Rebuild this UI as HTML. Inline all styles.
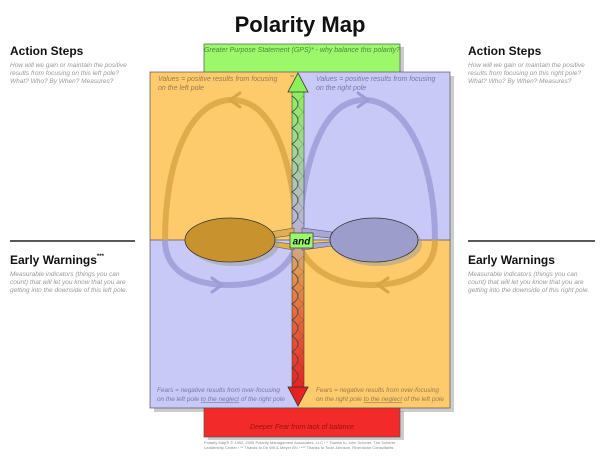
<!DOCTYPE html>
<html><head><meta charset="utf-8"><style>
body{margin:0;width:600px;height:459px;background:#fff;overflow:hidden;font-family:"Liberation Sans",sans-serif}
</style></head><body>
<svg width="600" height="459" viewBox="0 0 600 459" xmlns="http://www.w3.org/2000/svg" font-family="Liberation Sans, sans-serif">
<defs>
<linearGradient id="rope" x1="0" y1="0" x2="0" y2="1">
<stop offset="0" stop-color="#8cf05a"/><stop offset="0.45" stop-color="#b8b4d8"/><stop offset="0.6" stop-color="#e09a50"/><stop offset="1" stop-color="#e82020"/>
</linearGradient>
<clipPath id="top"><rect x="0" y="0" width="600" height="240"/></clipPath>
<clipPath id="bot"><rect x="0" y="240" width="600" height="219"/></clipPath>
</defs>
<text x="300" y="32" text-anchor="middle" font-size="22" font-weight="bold" fill="#111">Polarity Map</text>
<g fill="#111"><text x="10" y="55" font-size="12" font-weight="bold">Action Steps</text>
<text x="468" y="55" font-size="12" font-weight="bold">Action Steps</text>
<text x="10" y="264" font-size="12" font-weight="bold">Early Warnings<tspan font-size="6" dy="-6">***</tspan></text>
<text x="468" y="264" font-size="12" font-weight="bold">Early Warnings</text></g>
<g fill="#999" font-size="6.5" font-style="italic">
<text x="10" y="67">How will we gain or maintain the positive</text><text x="10" y="75">results from focusing on this left pole?</text><text x="10" y="83">What? Who? By When? Measures?</text>
<text x="468" y="67">How will we gain or maintain the positive</text><text x="468" y="75">results from focusing on this right pole?</text><text x="468" y="83">What? Who? By When? Measures?</text>
<text x="10" y="276">Measurable indicators (things you can</text><text x="10" y="284">count) that will let you know that you are</text><text x="10" y="292">getting into the downside of this left pole.</text>
<text x="468" y="276">Measurable indicators (things you can</text><text x="468" y="284">count) that will let you know that you are</text><text x="468" y="292">getting into the downside of this right pole.</text>
</g>
<line x1="10" y1="241" x2="135" y2="241" stroke="#222" stroke-width="1.5"/>
<line x1="468" y1="241" x2="595" y2="241" stroke="#222" stroke-width="1.5"/>
<rect x="208" y="47" width="196" height="28" fill="#999" opacity="0.5"/>
<rect x="154" y="76" width="300" height="336" fill="#999" opacity="0.5"/>
<rect x="208" y="411" width="196" height="29" fill="#999" opacity="0.5"/>
<rect x="204" y="44" width="196" height="29" fill="#9cf86a" stroke="#555" stroke-width="0.7"/>
<rect x="150" y="72" width="148" height="168" fill="#fdca6c"/>
<rect x="298" y="72" width="152" height="168" fill="#c9c9f7"/>
<rect x="150" y="240" width="148" height="168" fill="#c9c9f7"/>
<rect x="298" y="240" width="152" height="168" fill="#fdca6c"/>
<rect x="150" y="72" width="300" height="336" fill="none" stroke="#555" stroke-width="0.7"/>
<line x1="150" y1="240" x2="450" y2="240" stroke="#555" stroke-width="0.7"/>
<rect x="204" y="408" width="196" height="29" fill="#f22a2a" stroke="#555" stroke-width="0.7"/>
<g font-size="7" font-style="italic">
<text x="302" y="52" text-anchor="middle" fill="#4a8a3a">Greater Purpose Statement (GPS)* - why balance this polarity?</text>
<text x="158" y="81" fill="#9a7a50">Values = positive results from focusing</text><text x="158" y="90" fill="#9a7a50">on the left pole</text>
<text x="316" y="81" fill="#7878a8">Values = positive results from focusing</text><text x="316" y="90" fill="#7878a8">on the right pole</text>
</g>
<g font-size="6.4" font-style="italic">
<text x="157" y="392" fill="#7878a8">Fears = negative results from over-focusing</text><text x="157" y="401" fill="#7878a8">on the left pole <tspan text-decoration="underline">to the neglect</tspan> of the right pole</text>
<text x="316" y="392" fill="#9a7a50">Fears = negative results from over-focusing</text><text x="316" y="401" fill="#9a7a50">on the right pole <tspan text-decoration="underline">to the neglect</tspan> of the left pole</text>
</g>
<text x="302" y="429" text-anchor="middle" fill="#a01010" font-size="7" font-style="italic">Deeper Fear from lack of balance</text>
<text x="290" y="79" fill="#777" font-size="5">**</text>
<g font-size="4" fill="#888"><text x="204" y="444">Polarity Map® © 1992, 2005 Polarity Management Associates, LLC / * Thanks to John Scherer, The Scherer</text><text x="204" y="449">Leadership Center / ** Thanks to De Wit &amp; Meyer BV / *** Thanks to Todd Johnson, Riverdown Consultants</text></g>
<g fill="none" stroke-width="6" opacity="0.8">
<path d="M298,240 C292,150 270,100 232,100 C190,100 165,160 165,240 C165,270 190,285 230,285 C270,285 292,265 298,240" stroke="#d9a444" clip-path="url(#top)"/>
<path d="M298,240 C292,150 270,100 232,100 C190,100 165,160 165,240 C165,270 190,285 230,285 C270,285 292,265 298,240" stroke="#9c9cd6" clip-path="url(#bot)"/>
<path d="M298,240 C304,150 326,100 364,100 C406,100 435,160 435,240 C435,270 410,285 370,285 C330,285 304,265 298,240" stroke="#9c9cd6" clip-path="url(#top)"/>
<path d="M298,240 C304,150 326,100 364,100 C406,100 435,160 435,240 C435,270 410,285 370,285 C330,285 304,265 298,240" stroke="#d9a444" clip-path="url(#bot)"/>
</g>
<g fill="none" stroke-width="3" stroke-linecap="round">
<path d="M240,93 L230,100 L240,107" stroke="#d9a444"/>
<path d="M358,93 L368,100 L358,107" stroke="#9c9cd6"/>
<path d="M212,278 L222,285 L212,292" stroke="#9c9cd6"/>
<path d="M388,278 L378,285 L388,292" stroke="#d9a444"/>
</g>
<rect x="292" y="88" width="12" height="302" rx="3" fill="url(#rope)" stroke="#444" stroke-width="0.6"/>
<path d="M292,96 Q304,104 292,112 Q304,120 292,128 Q304,136 292,144 Q304,152 292,160 Q304,168 292,176 Q304,184 292,192 Q304,200 292,208 Q304,216 292,224 M292,256 Q304,264 292,272 Q304,280 292,288 Q304,296 292,304 Q304,312 292,320 Q304,328 292,336 Q304,344 292,352 Q304,360 292,368 Q304,376 292,384" fill="none" stroke="#444" stroke-width="0.8"/>
<path d="M304,96 Q292,104 304,112 Q292,120 304,128 Q292,136 304,144 Q292,152 304,160 Q292,168 304,176 Q292,184 304,192 Q292,200 304,208 Q292,216 304,224 M304,256 Q292,264 304,272 Q292,280 304,288 Q292,296 304,304 Q292,312 304,320 Q292,328 304,336 Q292,344 304,352 Q292,360 304,368 Q292,376 304,384" fill="none" stroke="#444" stroke-width="0.5" opacity="0.6"/>
<path d="M298,73 L288,92 L308,92 Z" fill="#8cf05a" stroke="#333" stroke-width="0.8"/>
<path d="M298,406 L288,387 L308,387 Z" fill="#e82020" stroke="#333" stroke-width="0.8"/>
<g stroke="#555" stroke-width="0.6">
<path d="M270,232 L294,228 L294,235 L272,238 Z" fill="#e0b050"/>
<path d="M270,246 L294,250 L294,244 L272,242 Z" fill="#e0b050"/>
<path d="M332,232 L302,228 L302,235 L330,238 Z" fill="#a8a8d8"/>
<path d="M332,246 L302,250 L302,244 L330,242 Z" fill="#a8a8d8"/>
</g>
<ellipse cx="234" cy="244" rx="45" ry="22" fill="#999" opacity="0.5"/>
<ellipse cx="378" cy="244" rx="44" ry="22" fill="#999" opacity="0.5"/>
<ellipse cx="230" cy="240" rx="45" ry="22" fill="#c8922e" stroke="#333" stroke-width="0.8"/>
<ellipse cx="374" cy="240" rx="44" ry="22" fill="#9d9dcc" stroke="#333" stroke-width="0.8"/>
<rect x="290" y="233" width="23" height="15" fill="#9cf86a" stroke="#333" stroke-width="0.7"/>
<text x="301.5" y="244.5" text-anchor="middle" font-size="10" font-weight="bold" font-style="italic" fill="#111">and</text>
</svg>
</body></html>
